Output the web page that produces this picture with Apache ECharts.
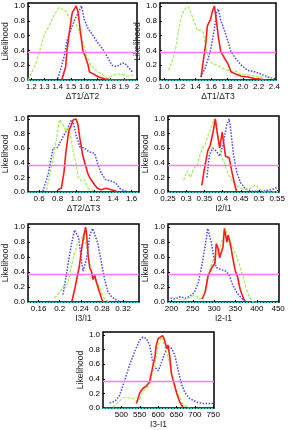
<!DOCTYPE html>
<html><head><meta charset="utf-8">
<script src="https://cdn.jsdelivr.net/npm/echarts@6/dist/echarts.min.js"></script>
<style>html,body{margin:0;padding:0;background:#fff}#c{width:289px;height:430px}</style>
</head><body><div id="c"></div>
<script>
// ---- data: [x, likelihood] ----
var p1Green = [[1.176,0],[1.23,0.2],[1.265,0.4],[1.30,0.62],[1.34,0.75],[1.37,0.87],[1.41,0.98],[1.42,0.99],[1.46,0.93],[1.49,0.84],[1.54,0.75],[1.58,0.58],[1.62,0.33],[1.65,0.2],[1.69,0.13],[1.74,0.07],[1.78,0.02],[1.82,0.07],[1.88,0.08],[1.93,0.05],[1.97,0.07]];
var p1Red = [[1.43,0],[1.46,0.18],[1.47,0.4],[1.49,0.67],[1.51,0.91],[1.52,0.94],[1.54,1.0],[1.555,0.91],[1.57,0.67],[1.59,0.4],[1.61,0.31],[1.63,0.2],[1.64,0.11],[1.68,0.07],[1.71,0.04],[1.76,0.013],[1.81,0],[1.86,0],[1.93,0]];
var p1Blue = [[1.40,0.02],[1.42,0.13],[1.45,0.33],[1.47,0.53],[1.50,0.69],[1.53,0.82],[1.555,0.91],[1.58,1.0],[1.60,0.82],[1.63,0.69],[1.66,0.62],[1.70,0.51],[1.74,0.42],[1.77,0.33],[1.81,0.2],[1.845,0.18],[1.88,0.22],[1.905,0.23],[1.94,0.16],[1.97,0.1]];

var p2Green = [[1.06,0.13],[1.11,0.27],[1.15,0.44],[1.19,0.71],[1.23,0.89],[1.28,0.98],[1.31,0.99],[1.34,0.91],[1.38,0.8],[1.42,0.67],[1.47,0.67],[1.50,0.64],[1.53,0.44],[1.57,0.29],[1.615,0.22],[1.68,0.2],[1.74,0.16],[1.81,0.13],[1.85,0.11],[1.91,0.12],[1.98,0.07],[2.06,0.07],[2.15,0.05],[2.23,0.04],[2.32,0.04],[2.40,0.01]];
var p2Red = [[1.47,0.04],[1.50,0.27],[1.53,0.49],[1.55,0.73],[1.59,0.82],[1.615,0.93],[1.64,1.0],[1.66,0.84],[1.69,0.58],[1.72,0.38],[1.76,0.31],[1.81,0.22],[1.85,0.11],[1.91,0.08],[1.98,0.05],[2.06,0.04],[2.15,0.02],[2.23,0.01],[2.29,0]];
var p2Blue = [[1.47,0.04],[1.53,0.18],[1.59,0.4],[1.64,0.69],[1.67,0.93],[1.69,0.96],[1.72,0.8],[1.76,0.69],[1.81,0.53],[1.85,0.38],[1.91,0.29],[1.98,0.2],[2.06,0.13],[2.15,0.11],[2.23,0.08],[2.32,0.04],[2.40,0.02]];

var p3Green = [[0.68,0.03],[0.71,0.19],[0.75,0.46],[0.79,0.74],[0.82,0.99],[0.84,1.0],[0.86,0.92],[0.89,0.83],[0.91,0.89],[0.94,0.78],[0.97,0.53],[1.0,0.4],[1.02,0.21],[1.06,0.15],[1.09,0.17],[1.13,0.05],[1.18,0.02]];
var p3Red = [[0.80,0.03],[0.84,0.05],[0.87,0.28],[0.89,0.55],[0.92,0.83],[0.95,0.92],[0.97,0.99],[1.0,1.0],[1.02,0.92],[1.04,0.74],[1.07,0.51],[1.10,0.37],[1.13,0.24],[1.16,0.17],[1.20,0.1],[1.23,0.05],[1.27,0.03],[1.32,0.05],[1.38,0.03],[1.41,0.02],[1.45,0]];
var p3Blue = [[0.64,0.01],[0.70,0.25],[0.75,0.6],[0.80,0.61],[0.86,0.76],[0.91,0.87],[0.95,0.99],[0.97,0.95],[1.0,0.78],[1.04,0.62],[1.09,0.6],[1.14,0.55],[1.20,0.53],[1.23,0.4],[1.27,0.26],[1.32,0.17],[1.38,0.15],[1.43,0.12],[1.47,0.05],[1.52,0.02],[1.57,0]];

var p4Green = [[0.293,0.16],[0.302,0.29],[0.312,0.2],[0.321,0.33],[0.33,0.36],[0.338,0.51],[0.345,0.6],[0.351,0.64],[0.359,0.76],[0.368,0.87],[0.376,1.0],[0.383,0.91],[0.389,0.69],[0.397,0.49],[0.406,0.38],[0.416,0.24],[0.425,0.16],[0.439,0.09],[0.454,0.04],[0.472,0.04],[0.491,0.1],[0.501,0.04],[0.515,0],[0.539,0],[0.553,0.01]];
var p4Red = [[0.343,0.09],[0.349,0.29],[0.359,0.56],[0.366,0.64],[0.373,0.8],[0.38,1.0],[0.385,0.82],[0.392,0.6],[0.399,0.82],[0.403,0.67],[0.408,0.49],[0.418,0.47],[0.425,0.29],[0.433,0.11],[0.438,0.01]];
var p4Blue = [[0.357,0.2],[0.364,0.51],[0.373,0.6],[0.383,0.56],[0.392,0.49],[0.401,0.64],[0.411,0.91],[0.418,1.0],[0.423,0.82],[0.43,0.51],[0.439,0.27],[0.449,0.13],[0.463,0.04],[0.482,0.01],[0.51,0.01],[0.534,0.03],[0.553,0.07]];

var p5Green = [[0.19,0.05],[0.196,0.1],[0.203,0.16],[0.209,0.23],[0.212,0.19],[0.217,0.3],[0.222,0.47],[0.228,0.65],[0.234,0.78],[0.241,0.85],[0.245,0.91],[0.249,0.78],[0.253,0.65],[0.258,0.47],[0.263,0.34],[0.269,0.27],[0.276,0.19],[0.282,0.07],[0.288,0.02],[0.295,0]];
var p5Red = [[0.223,0.01],[0.228,0.16],[0.232,0.3],[0.237,0.47],[0.241,0.69],[0.244,0.82],[0.247,0.93],[0.249,1.0],[0.251,0.89],[0.254,0.6],[0.257,0.45],[0.26,0.41],[0.263,0.3],[0.266,0.36],[0.27,0.25],[0.274,0.16],[0.279,0.05],[0.282,0]];
var p5Blue = [[0.206,0.1],[0.212,0.34],[0.218,0.6],[0.223,0.8],[0.228,0.96],[0.232,0.91],[0.236,0.85],[0.241,0.56],[0.244,0.41],[0.247,0.41],[0.251,0.58],[0.257,0.89],[0.262,0.98],[0.266,0.91],[0.272,0.78],[0.279,0.52],[0.285,0.3],[0.291,0.14],[0.298,0.07],[0.307,0.03],[0.314,0]];

var p6Green = [[198,0.05],[206,0.07],[218,0.04],[229,0.03],[240,0.05],[252,0.09],[260,0.07],[267,0.04],[275,0.07],[279,0.15],[286,0.37],[294,0.5],[302,0.61],[310,0.65],[317,0.78],[323,0.91],[326,0.99],[331,0.89],[336,0.76],[344,0.72],[351,0.63],[359,0.5],[367,0.35],[374,0.2],[382,0.07],[390,0],[401,0]];
var p6Red = [[272,0.04],[279,0.13],[286,0.35],[295,0.46],[302,0.52],[305,0.78],[309,0.72],[313,0.59],[317,0.57],[321,0.74],[324,0.98],[327,1.0],[330,0.8],[333,0.89],[338,0.78],[343,0.61],[349,0.43],[355,0.33],[361,0.17],[366,0.09],[371,0.02]];
var p6Blue = [[198,0.05],[210,0.04],[221,0.07],[233,0.05],[244,0.08],[254,0.13],[263,0.26],[271,0.48],[279,0.74],[285,0.98],[288,0.96],[294,0.78],[300,0.57],[305,0.46],[317,0.43],[328,0.41],[336,0.35],[344,0.22],[355,0.11],[366,0.04],[378,0]];

var p7Green = [[477,0.01],[491,0.08],[505,0.14],[518,0.14],[532,0.13],[541,0.1],[550,0.12],[559,0.23],[568,0.27],[577,0.32],[585,0.49],[591,0.6],[597,0.77],[603,0.9],[609,0.97],[615,0.9],[623,0.77],[630,0.64],[636,0.49],[645,0.32],[655,0.19],[664,0.08],[673,0.03],[686,0.01]];
var p7Red = [[541,0.06],[550,0.21],[559,0.27],[568,0.3],[577,0.36],[585,0.56],[591,0.69],[595,0.86],[600,0.95],[605,0.96],[612,0.99],[616,0.95],[623,0.82],[627,0.86],[632,0.69],[636,0.47],[643,0.34],[650,0.21],[659,0.08],[668,0.01]];
var p7Blue = [[468,0.07],[482,0.09],[495,0.17],[509,0.38],[523,0.6],[536,0.77],[550,0.93],[559,0.97],[568,0.95],[577,0.86],[585,0.64],[591,0.56],[600,0.51],[606,0.58],[618,0.75],[627,0.84],[636,0.82],[645,0.73],[655,0.51],[664,0.32],[673,0.21],[686,0.13],[705,0.08],[723,0.06],[750,0.06]];

// axis names, ranges and tick labels
var xNames = ['\u0394T1/\u0394T2','\u0394T1/\u0394T3','\u0394T2/\u0394T3','I2/I1','I3/I1','I2-I1','I3-I1'];
var xMins = [1.175, 0.95, 0.48, 0.25, 0.14, 192, 450];
var xMaxs = [2.0, 2.42, 1.68, 0.555, 0.35, 452, 752];
var xTicks = [
  [1.2,1.3,1.4,1.5,1.6,1.7,1.8,1.9,2.0],
  [1.0,1.2,1.4,1.6,1.8,2.0,2.2,2.4],
  [0.6,0.8,1.0,1.2,1.4,1.6],
  [0.25,0.3,0.35,0.4,0.45,0.5,0.55],
  [0.16,0.2,0.24,0.28,0.32],
  [200,250,300,350,400,450],
  [500,550,600,650,700,750]
];
var xTickText = [
  ['1.2','1.3','1.4','1.5','1.6','1.7','1.8','1.9','2'],
  ['1.0','1.2','1.4','1.6','1.8','2.0','2.2','2.4'],
  ['0.6','0.8','1.0','1.2','1.4','1.6'],
  ['0.25','0.3','0.35','0.4','0.45','0.5','0.55'],
  ['0.16','0.2','0.24','0.28','0.32'],
  ['200','250','300','350','400','450'],
  ['500','550','600','650','700','750']
];
var yTicks = [0,0.2,0.4,0.6,0.8,1.0];
var threshold = 0.368;

var panels = [
  [p1Green,p1Red,p1Blue],[p2Green,p2Red,p2Blue],[p3Green,p3Red,p3Blue],
  [p4Green,p4Red,p4Blue],[p5Green,p5Red,p5Blue],[p6Green,p6Red,p6Blue],[p7Green,p7Red,p7Blue]
];
var boxes = [
  {left:26, top:3, width:111, height:77},
  {left:160, top:3, width:116, height:77},
  {left:28, top:116, width:111, height:76},
  {left:168, top:116, width:111, height:76},
  {left:28, top:224, width:111, height:78},
  {left:168, top:224, width:111, height:78},
  {left:103, top:332, width:111, height:79}
];

var FONT = 'Liberation Sans';
var grids = [], xAxes = [], yAxes = [], series = [];
panels.forEach(function(p, i){
  var b = boxes[i];
  grids.push({left:b.left, top:b.top, width:b.width, height:b.height, show:true, borderColor:'#000', borderWidth:1.5, backgroundColor:'transparent', containLabel:false});
  (function(ticks, texts){
    xAxes.push({
      type:'value', gridIndex:i, min:xMins[i], max:xMaxs[i],
      name:xNames[i], nameLocation:'middle', nameGap:12,
      nameTextStyle:{fontFamily:FONT, fontSize:8.5, color:'#222'},
      axisLine:{show:false}, splitLine:{show:false},
      axisTick:{show:true, inside:true, length:2, customValues:ticks, lineStyle:{color:'#000'}},
      axisLabel:{show:true, customValues:ticks, interval:0, hideOverlap:false, margin:3, fontFamily:FONT, fontSize:(i===0?7.6:8), color:'#000',
        formatter:function(v){ for (var k=0;k<ticks.length;k++){ if (Math.abs(ticks[k]-v) < 1e-9) return texts[k]; } return ''; }}
    });
  })(xTicks[i], xTickText[i]);
  yAxes.push({
    type:'value', gridIndex:i, min:0, max:1.04,
    name:'Likelihood', nameLocation:'middle', nameGap:16, nameRotate:90,
    nameTextStyle:{fontFamily:FONT, fontSize:8.5, color:'#222'},
    axisLine:{show:false}, splitLine:{show:false},
    axisTick:{show:true, inside:true, length:2, customValues:yTicks, lineStyle:{color:'#000'}},
    axisLabel:{show:true, customValues:yTicks, interval:0, hideOverlap:false, margin:3, fontFamily:FONT, fontSize:8, color:'#000',
      formatter:function(v){ return v.toFixed(1); }}
  });
  series.push({type:'line', xAxisIndex:i, yAxisIndex:i, data:p[2], showSymbol:false, symbol:'none', z:2,
    lineStyle:{color:'#4646f0', width:1.5, type:[1.5,1.5]}});
  series.push({type:'line', xAxisIndex:i, yAxisIndex:i, data:p[0], showSymbol:false, symbol:'none', z:3,
    lineStyle:{color:'#a0ee55', width:1.2, type:[3,1.5]},
    markLine:{silent:true, symbol:['none','none'], label:{show:false},
      data:[
        {yAxis:threshold, lineStyle:{color:'#ff77ff', width:1.4, type:'solid'}},
        {yAxis:0.004, lineStyle:{color:'#33cccc', width:1, type:[2,1]}}
      ]}});
  series.push({type:'line', xAxisIndex:i, yAxisIndex:i, data:p[1], showSymbol:false, symbol:'none', z:4,
    lineStyle:{color:'#ff1a1a', width:1.6, type:'solid'}});
});

var chart = echarts.init(document.getElementById('c'), null, {renderer:'canvas'});
chart.setOption({animation:false, backgroundColor:'#fff', grid:grids, xAxis:xAxes, yAxis:yAxes, series:series});
</script></body></html>
